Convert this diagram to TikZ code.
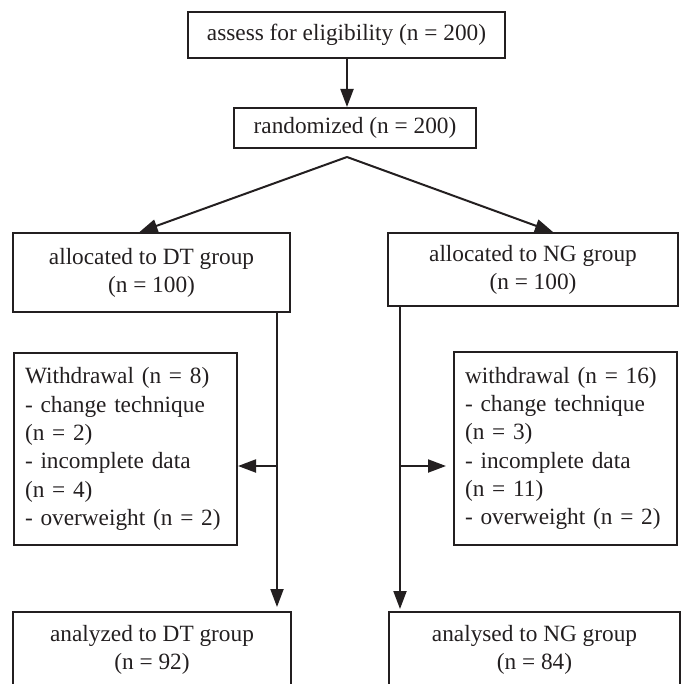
\documentclass[tikz,border=0pt]{standalone}
\usepackage{fontspec}
\setmainfont{Liberation Serif}
\usetikzlibrary{arrows.meta}
\definecolor{ink}{RGB}{35,31,32}
\tikzset{
  box/.style={draw=ink, line width=2pt, inner sep=0pt, text=ink,
    font=\fontsize{23.3}{28}\selectfont, align=center},
  wbox/.style={draw=ink, line width=2pt, inner xsep=11pt, inner ysep=0pt, text=ink,
    font=\fontsize{23.3}{28.3}\selectfont, align=left, text width=201pt},
  arr/.style={draw=ink, line width=2pt, -{Triangle[length=18pt,width=13pt]}},
  ln/.style={draw=ink, line width=2pt},
}
\begin{document}
\begin{tikzpicture}[x=1pt,y=-1pt]
\useasboundingbox (0,0) rectangle (683,684);
\clip (0,0) rectangle (683,684);
\node[box, minimum width=317pt, minimum height=46pt] (assess) at (346.5,35) {assess for eligibility (n = 200)};
\node[box, minimum width=242pt, minimum height=40pt] (rand) at (355,128) {randomized (n = 200)};
\node[box, minimum width=277pt, minimum height=79pt] (dt) at (151.5,272.5) {allocated to DT group\\(n = 100)};
\node[box, minimum width=290pt, minimum height=73pt] (ng) at (533,269.5) {allocated to NG group\\(n = 100)};
\node[wbox, minimum height=192pt] (dtw) at (125.5,449) {Withdrawal (n = 8)\\- change technique\\(n = 2)\\- incomplete data\\(n = 4)\\- overweight (n = 2)};
\node[wbox, minimum height=193pt] (ngw) at (565.5,448.5) {withdrawal (n = 16)\\- change technique\\(n = 3)\\- incomplete data\\(n = 11)\\- overweight (n = 2)};
\node[box, minimum width=278pt, minimum height=76pt] (dtres) at (152,650) {analyzed to DT group\\(n = 92)};
\node[box, minimum width=291pt, minimum height=76pt] (ngres) at (534.5,650) {analysed to NG group\\(n = 84)};
\coordinate (split) at (347,157);
\coordinate (dtj) at (277,466);
\coordinate (ngj) at (400,466);
\draw[arr] (assess.south -| split) -- (rand.north -| split);
\draw[arr] (split) -- ([xshift=-12pt]dt.north);
\draw[arr] (split) -- ([xshift=20pt]ng.north);
\draw[arr, shorten >=4pt] (dt.south -| dtj) -- (dtres.north -| dtj);
\draw[arr, shorten >=2pt] (ng.south -| ngj) -- (ngres.north -| ngj);
\draw[arr] (dtj) -- (dtj -| dtw.east);
\draw[arr, shorten >=7pt] (ngj) -- (ngj -| ngw.west);
\end{tikzpicture}
\end{document}
